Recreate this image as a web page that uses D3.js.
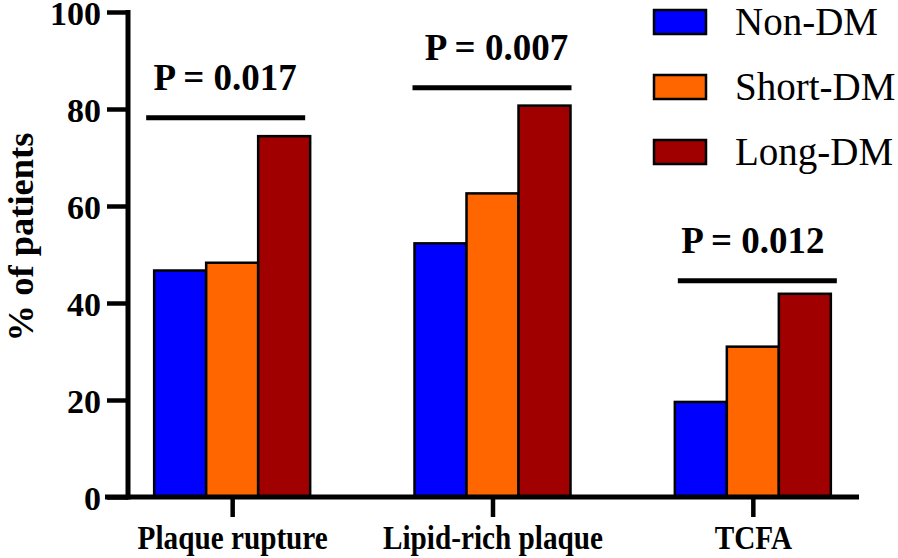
<!DOCTYPE html>
<html><head><meta charset="utf-8">
<script src="https://cdn.jsdelivr.net/npm/d3@7"></script>
<style>body{margin:0;background:#fff}svg{display:block}</style>
</head><body>
<script>
const categories = ["Plaque rupture", "Lipid-rich plaque", "TCFA"];
const seriesNames = ["Non-DM", "Short-DM", "Long-DM"];
const nonDM = [46.7, 52.3, 19.6];
const shortDM = [48.3, 62.6, 31.0];
const longDM = [74.4, 80.7, 41.9];
const pValues = ["P = 0.017", "P = 0.007", "P = 0.012"];
const pLineLevel = [78.2, 84.4, 44.6];
const yTicks = [0, 20, 40, 60, 80, 100];
const colors = ["#0000FF", "#FF6600", "#A00000"];

// layout-only nudges (pixels) for the significance brackets and their labels
const lineShift = [-6, 0, 5];
const textShift = [-7, 4, 0];

const values = [nonDM, shortDM, longDM];
const W = 898, H = 558;
const FONT = "'Liberation Serif'";
const svg = d3.select("body").append("svg").attr("width", W).attr("height", H);

const y = d3.scaleLinear().domain([0, 100]).range([497, 12]);
const x0 = d3.scaleBand().domain(categories).range([102, 883]).padding(0);
const groupW = 156;
const x1 = d3.scaleBand().domain(seriesNames).range([0, groupW]);
const gx = c => x0(c) + (x0.bandwidth() - groupW) / 2;
const cx = c => x0(c) + x0.bandwidth() / 2;

// bars
categories.forEach((c, i) => {
  seriesNames.forEach((s, j) => {
    svg.append("rect")
      .attr("x", gx(c) + x1(s))
      .attr("y", y(values[j][i]))
      .attr("width", x1.bandwidth())
      .attr("height", y(0) - y(values[j][i]))
      .attr("fill", colors[j])
      .attr("stroke", "#000").attr("stroke-width", 2.5);
  });
});

// y axis
const yAxis = d3.axisLeft(y).tickValues(yTicks).tickSize(21).tickPadding(6).tickFormat(d3.format("d"));
const ya = svg.append("g").attr("transform", "translate(128,0)").call(yAxis);
ya.select(".domain").attr("stroke", "#000").attr("stroke-width", 5).attr("d", "M0,10V499.5");
ya.selectAll(".tick line").attr("stroke", "#000").attr("stroke-width", 4.5);
ya.selectAll(".tick text").style("font-family", FONT).attr("font-weight", "bold")
  .attr("font-size", 34).attr("fill", "#000").attr("dy", "0.37em");

// x axis
const xAxis = d3.axisBottom(d3.scalePoint().domain(categories).range([cx(categories[0]), cx(categories[2])]))
  .tickSize(20).tickPadding(10);
const xa = svg.append("g").attr("transform", "translate(0,497)").call(xAxis);
xa.select(".domain").attr("stroke", "#000").attr("stroke-width", 5).attr("d", "M105,0H859");
xa.selectAll(".tick line").attr("stroke", "#000").attr("stroke-width", 4.5);
xa.selectAll(".tick text").style("font-family", FONT).attr("font-weight", "bold")
  .attr("font-size", 34).attr("fill", "#000").attr("y", 52).attr("dy", 0)
  .attr("transform", "scale(0.86,1)");

// y label
svg.append("text").attr("transform", "translate(33,237) rotate(-90)")
  .attr("text-anchor", "middle").style("font-family", FONT).attr("font-weight", "bold")
  .attr("font-size", 36.5).text("% of patients");

// significance
categories.forEach((c, i) => {
  const ly = y(pLineLevel[i]);
  const lc = cx(c) + lineShift[i];
  svg.append("line").attr("x1", lc - 80).attr("x2", lc + 79)
    .attr("y1", ly).attr("y2", ly).attr("stroke", "#000").attr("stroke-width", 5);
  svg.append("text").attr("x", cx(c) + textShift[i]).attr("y", ly - 28).attr("text-anchor", "middle")
    .style("font-family", FONT).attr("font-weight", "bold").attr("font-size", 37)
    .text(pValues[i]);
});

// legend
seriesNames.forEach((s, j) => {
  const ty = 35 + j * 65;
  svg.append("rect").attr("x", 654).attr("y", ty - 25).attr("width", 52).attr("height", 24)
    .attr("fill", colors[j]).attr("stroke", "#000").attr("stroke-width", 2.5);
  svg.append("text").attr("x", 735).attr("y", ty).style("font-family", FONT)
    .attr("font-size", 39).text(s);
});
</script>
</body></html>
